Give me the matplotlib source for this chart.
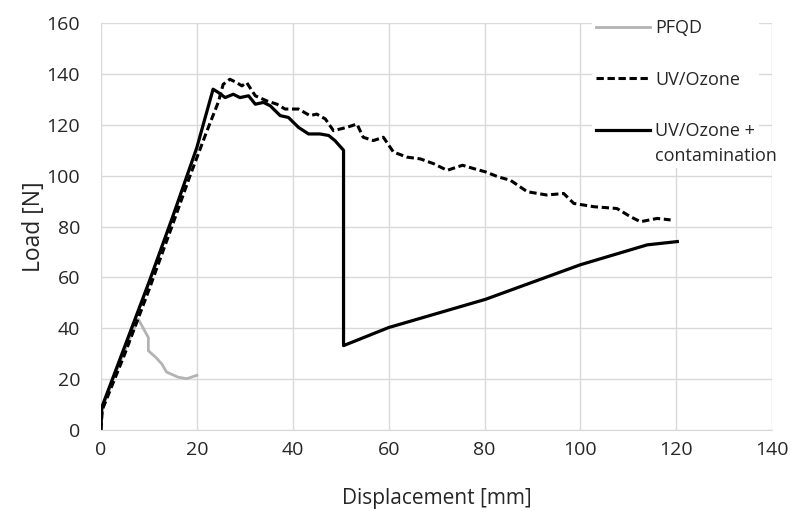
import matplotlib.pyplot as plt

# data
pfqd_x = [0, 0.2, 3, 6, 7.8, 9.9, 9.9, 11.5, 12.7, 13.7, 16.1, 17.9, 20]
pfqd_y = [0, 8, 22, 36, 43.6, 36.4, 31.2, 28.5, 26, 22.8, 20.8, 20.2, 21.5]

uv_x = [0, 0.3, 5, 10, 15, 18.6, 22, 24.5, 25.5, 26.9, 28.3, 29.4, 30.4, 32.2, 34.6, 36.7,
        38.4, 41.2, 43.6, 45, 46.8, 48.5, 51.3, 53.4, 54.7, 56.8, 58.9, 61, 63.8, 66.6,
        69.4, 72.2, 75.4, 77.7, 80.2, 82.9, 85.4, 88.9, 93, 96.5, 98.6, 102.8, 107.6,
        110.4, 112.5, 116, 118.8]
uv_y = [0, 8, 30, 55, 81, 100, 117, 129, 135.9, 137.9, 136.6, 135.3, 136.6, 131.4, 129.4,
        128.1, 126.2, 126.2, 123.6, 124.2, 122.3, 117.7, 119, 120.3, 115.1, 113.8, 115.1,
        109.3, 107.3, 106.6, 104.7, 102.1, 104.1, 102.8, 101.5, 99.5, 98.2, 93.7, 92.4, 93,
        89.1, 87.8, 87.1, 83.9, 81.9, 83.2, 82.6]

cont_x = [0, 0.2, 5, 10, 15, 20, 23.4, 24.5, 25.9, 27.6, 29, 30.8, 32.2, 33.9, 35.3, 37.4,
          39.1, 41.2, 43.3, 45.7, 47.5, 48.8, 50.6, 50.6, 60, 80.2, 100, 113.9, 120.2]
cont_y = [0, 9, 33, 58, 84, 111, 134, 132.7, 130.7, 132, 130.7, 131.4, 128.1, 128.8, 127.5,
          123.6, 122.9, 119, 116.4, 116.4, 115.8, 113.8, 110, 33.2, 40.3, 51.4, 65, 72.8, 74.1]

plt.rcParams['font.family'] = ['Open Sans', 'DejaVu Sans']
txt = '#262626'

fig = plt.figure(figsize=(8.07, 5.12), dpi=100)
ax = fig.add_axes([0.125, 0.16, 0.832, 0.795])

ax.plot(pfqd_x, pfqd_y, color='#b3b3b3', lw=2, label='PFQD')
ax.plot(uv_x, uv_y, color='black', lw=2.2, ls=(0, (2.4, 1.2)), label='UV/Ozone')
ax.plot(cont_x, cont_y, color='black', lw=2.3, label='UV/Ozone +')

ax.set_xlim(0, 140)
ax.set_ylim(0, 160)
ax.set_xticks(range(0, 141, 20))
ax.set_yticks(range(0, 161, 20))
ax.grid(True, color='#d9d9d9', lw=1)
ax.set_axisbelow(True)
for s in ['top', 'right', 'left']:
    ax.spines[s].set_visible(False)
ax.spines['bottom'].set_color('#d9d9d9')
ax.tick_params(length=0, labelsize=14, colors=txt)
ax.tick_params(axis='x', pad=8)
ax.tick_params(axis='y', pad=15)
ax.set_xlabel('Displacement [mm]', fontsize=15, color=txt, labelpad=21)
ax.set_ylabel('Load [N]', fontsize=16.5, color=txt, labelpad=0)

leg = ax.legend(loc='upper left', bbox_to_anchor=(0.718, 1.04), frameon=True, fontsize=13,
                handlelength=3.0, handletextpad=0.3, labelspacing=1.85, borderpad=0.2)
leg.get_frame().set_edgecolor('none')
leg.get_frame().set_facecolor('white')
leg.get_frame().set_alpha(1)
for t in leg.get_texts():
    t.set_color(txt)

# second line of the last legend label, drawn after the legend is laid out
ax.annotate('contamination', xy=(0, 0), xycoords=leg.get_texts()[2],
            xytext=(0, -5), textcoords='offset points', va='top', ha='left',
            fontsize=13, color=txt, annotation_clip=False, zorder=10,
            bbox=dict(facecolor='white', edgecolor='none', pad=2))

fig.savefig('out.png', dpi=100)
